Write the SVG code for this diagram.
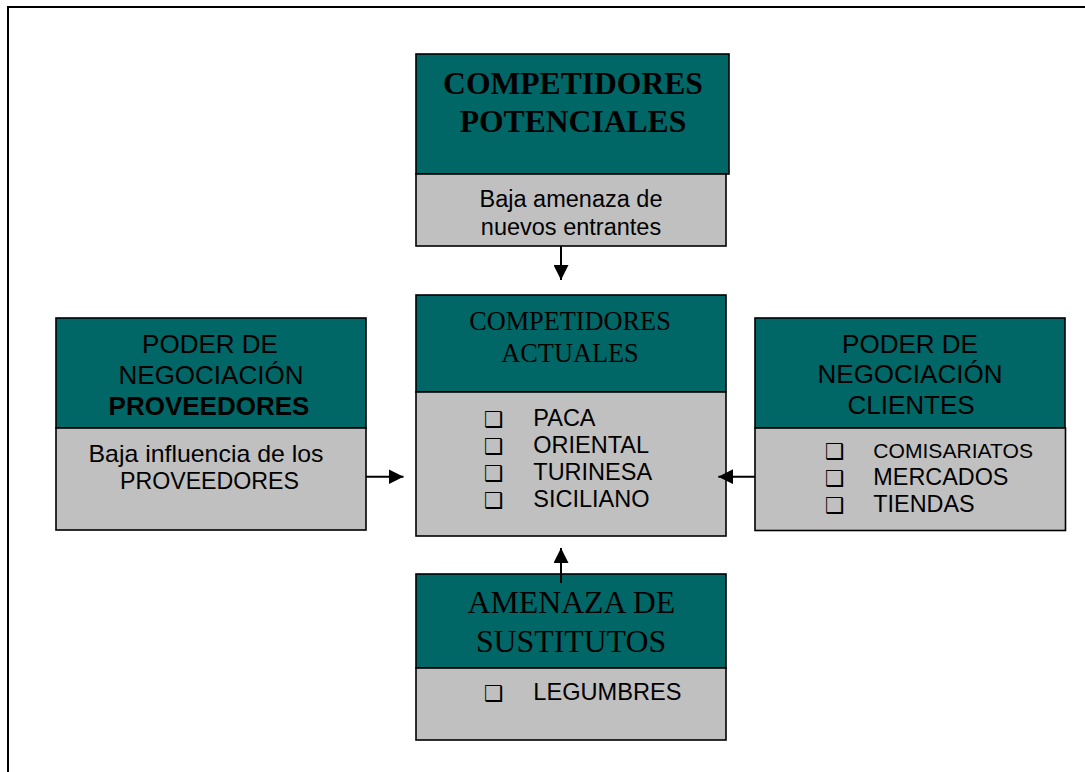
<svg xmlns="http://www.w3.org/2000/svg" width="1085" height="772" viewBox="0 0 1085 772">
<style>
.teal{fill:#006666;stroke:#000;stroke-width:1.6}
.gray{fill:#C0C0C0;stroke:#000;stroke-width:1.6}
.serif{font-family:"Liberation Serif","Times New Roman",serif;fill:#000;text-anchor:middle}
.sans{font-family:"Liberation Sans",Arial,sans-serif;fill:#000}
.mid{text-anchor:middle}
.bul{font-family:"DejaVu Sans",sans-serif;font-size:22px;fill:#000}
.conn{stroke:#000;stroke-width:2;fill:none}
</style>
<defs>
<marker id="ah" viewBox="0 0 10 10" refX="10" refY="5" markerWidth="15" markerHeight="15" markerUnits="userSpaceOnUse" orient="auto">
<path d="M0,0 L10,5 L0,10 Z" fill="#000"/>
</marker>
</defs>
<rect x="0" y="0" width="1085" height="772" fill="#fff"/>
<rect x="8" y="7" width="1110" height="800" fill="none" stroke="#000" stroke-width="2"/>

<g id="potenciales">
<rect class="teal" x="416" y="54" width="313" height="120"/>
<rect class="gray" x="416" y="174" width="310" height="72"/>
<text class="serif" x="573" y="94" font-size="31.6" font-weight="bold">COMPETIDORES</text>
<text class="serif" x="573" y="131.5" font-size="31.6" font-weight="bold">POTENCIALES</text>
<text class="sans mid" x="571" y="207" font-size="23.5">Baja amenaza de</text>
<text class="sans mid" x="571" y="235" font-size="23.5">nuevos entrantes</text>
</g>

<g id="actuales">
<rect class="teal" x="416" y="295" width="310" height="97"/>
<rect class="gray" x="416" y="392" width="310" height="144"/>
<text class="serif" x="570" y="330" font-size="26.3">COMPETIDORES</text>
<text class="serif" x="570" y="361.5" font-size="26.3">ACTUALES</text>
<text class="bul" x="484" y="426.5">❑</text>
<text class="bul" x="484" y="453.7">❑</text>
<text class="bul" x="484" y="480.9">❑</text>
<text class="bul" x="484" y="508.1">❑</text>
<text class="sans" x="533.3" y="425.5" font-size="23.5">PACA</text>
<text class="sans" x="533.3" y="452.7" font-size="23.5">ORIENTAL</text>
<text class="sans" x="533.3" y="479.9" font-size="23.5">TURINESA</text>
<text class="sans" x="533.3" y="507.1" font-size="23.5">SICILIANO</text>
</g>

<g id="proveedores">
<rect class="teal" x="56" y="318" width="310" height="110"/>
<rect class="gray" x="56" y="428" width="310" height="102"/>
<text class="sans mid" x="210" y="352.5" font-size="26">PODER DE</text>
<text class="sans mid" x="211" y="384" font-size="26">NEGOCIACIÓN</text>
<text class="sans mid" x="209" y="415" font-size="26" font-weight="bold">PROVEEDORES</text>
<text class="sans mid" x="206" y="461.5" font-size="24" textLength="235" lengthAdjust="spacingAndGlyphs">Baja influencia de los</text>
<text class="sans mid" x="209.5" y="488.5" font-size="23.2">PROVEEDORES</text>
</g>

<g id="clientes">
<rect class="teal" x="755" y="318" width="310" height="110"/>
<rect class="gray" x="755" y="428" width="310.5" height="102.5"/>
<text class="sans mid" x="910" y="352.5" font-size="26">PODER DE</text>
<text class="sans mid" x="910" y="383" font-size="26">NEGOCIACIÓN</text>
<text class="sans mid" x="911" y="413.5" font-size="26">CLIENTES</text>
<text class="bul" x="825" y="459.3">❑</text>
<text class="bul" x="825" y="486">❑</text>
<text class="bul" x="825" y="513.3">❑</text>
<text class="sans" x="873.3" y="458.3" font-size="21.1">COMISARIATOS</text>
<text class="sans" x="873.3" y="485" font-size="23.4">MERCADOS</text>
<text class="sans" x="873.3" y="512.3" font-size="23.4">TIENDAS</text>
</g>

<g id="sustitutos">
<rect class="teal" x="416" y="574" width="310" height="94"/>
<rect class="gray" x="416" y="668" width="310" height="72"/>
<text class="serif" x="571.3" y="613.3" font-size="31.8">AMENAZA DE</text>
<text class="serif" x="571" y="652.3" font-size="31.8">SUSTITUTOS</text>
<text class="bul" x="484" y="701">❑</text>
<text class="sans" x="533.3" y="700" font-size="23.6">LEGUMBRES</text>
</g>

<g id="connectors">
<line class="conn" x1="561" y1="246" x2="561" y2="280" marker-end="url(#ah)"/>
<line class="conn" x1="561" y1="583" x2="561" y2="548" marker-end="url(#ah)"/>
<line class="conn" x1="366" y1="476.7" x2="403.5" y2="476.7" marker-end="url(#ah)"/>
<line class="conn" x1="755" y1="476.7" x2="718.3" y2="476.7" marker-end="url(#ah)"/>
</g>
</svg>
